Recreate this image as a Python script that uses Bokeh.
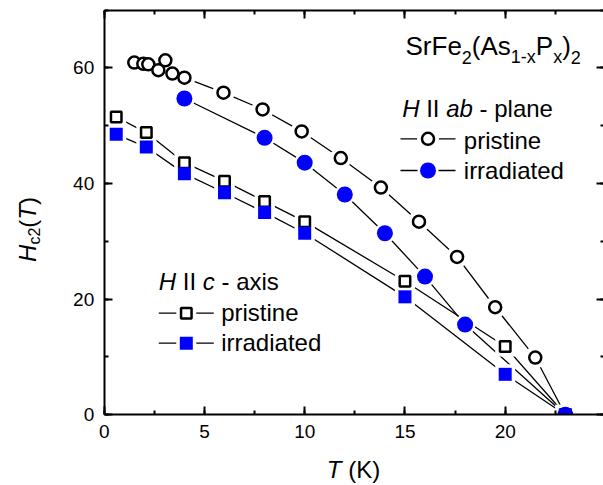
import math
from bokeh.plotting import figure
from bokeh.models import Range1d, LinearAxis, SingleIntervalTicker, Label, Grid
from bokeh.embed import file_html
from bokeh.resources import INLINE

# ---------------- data ----------------
ab_pristine_T = [1.5, 1.95, 2.2, 2.7, 3.05, 3.4, 4.0, 5.95, 7.9, 9.85, 11.8, 13.8, 15.7, 17.6, 19.5, 21.5, 23.0]
ab_pristine_H = [60.9, 60.7, 60.6, 59.6, 61.3, 59.0, 58.3, 55.7, 52.8, 49.0, 44.4, 39.3, 33.4, 27.3, 18.6, 9.9, 0.0]
ab_irr_T = [4.0, 8.0, 10.0, 12.0, 14.0, 16.0, 18.0, 23.0]
ab_irr_H = [54.7, 47.9, 43.6, 38.1, 31.4, 23.9, 15.6, 0.0]
c_pristine_T = [0.6, 2.1, 4.0, 6.0, 8.0, 10.0, 15.0, 20.0, 23.0]
c_pristine_H = [51.5, 48.8, 43.6, 40.4, 36.9, 33.4, 23.1, 11.8, 0.0]
c_irr_T = [0.6, 2.1, 4.0, 6.0, 8.0, 10.0, 15.0, 20.0, 23.0]
c_irr_H = [48.5, 46.3, 41.7, 38.4, 35.0, 31.4, 20.4, 7.0, 0.0]

x_axis_max = 24.95
y_axis_max = 70.0
x_ticks_interval = 5
y_ticks_interval = 20
x_label = [("T", True), (" (K)", False)]
y_label = [("H", True, False), ("c2", False, True), ("(", False, False), ("T", True, False), (")", False, False)]
title_runs = [("SrFe", False), ("2", True), ("(As", False), ("1-x", True), ("P", False), ("x", True), (")", False), ("2", True)]
ab_title = [("H", True), (" II ", False), ("ab", True), (" - plane", False)]
c_title = [("H", True), (" II ", False), ("c", True), (" - axis", False)]
item_labels = ["pristine", "irradiated"]

BLUE = "#0000FF"
FONT = "Liberation Sans"

# ---------------- geometry (canvas px) ----------------
W, Hh = 603, 485
AX0, AY0 = 103.7, 414.3     # pixel position of data origin
XS = 20.05                  # px per K
YS = (AY0 - 9.5) / y_axis_max


def tx(px):
    return (px - AX0) / XS


def hy(py):
    return (AY0 - py) / YS


p = figure(width=W, height=Hh,
           x_range=Range1d(tx(0), tx(W)), y_range=Range1d(hy(Hh), hy(0)),
           output_backend="svg", toolbar_location=None,
           x_axis_location=None, y_axis_location=None,
           min_border=0, min_border_left=0, min_border_right=0, min_border_top=0, min_border_bottom=0,
           background_fill_color="white", border_fill_color="white")
p.outline_line_color = None
for r in p.center:
    if isinstance(r, Grid):
        r.visible = False

xt = SingleIntervalTicker(interval=x_ticks_interval, num_minor_ticks=2)
yt = SingleIntervalTicker(interval=y_ticks_interval, num_minor_ticks=2)


def make_axis(ticker, loc, bounds, show_labels, standoff):
    ax = LinearAxis(ticker=ticker, fixed_location=loc, bounds=bounds)
    ax.axis_line_width = 2
    ax.axis_line_color = "black"
    ax.major_tick_line_width = 2
    ax.minor_tick_line_width = 2
    ax.major_tick_in = 8
    ax.major_tick_out = 0
    ax.minor_tick_in = 4
    ax.minor_tick_out = 0
    if show_labels:
        ax.major_label_text_font = FONT
        ax.major_label_text_font_size = "19px"
        ax.major_label_text_color = "black"
        ax.major_label_standoff = standoff
        ax.major_label_orientation = "horizontal"
    else:
        ax.major_label_text_color = None
        ax.major_label_text_font_size = "1px"
        ax.major_label_standoff = 0
    return ax


# ---------------- series ----------------
series = [
    (ab_pristine_T, ab_pristine_H, "circle", 12, "white", "black", 2.5, 22),
    (ab_irr_T, ab_irr_H, "circle", 16, BLUE, None, 0, 21),
    (c_pristine_T, c_pristine_H, "square", 10.5, "white", "black", 2.5, 20),
    (c_irr_T, c_irr_H, "square", 13, BLUE, None, 0, 20),
]

# legend sample positions (canvas px): (x_left, x_right, y)
samples = [
    (400, 455, 138.3),
    (400, 455, 170.0),
    (158.3, 213.3, 312.7),
    (158.3, 213.3, 342.7),
]

for (T, Hc, *_), (xl, xr, yy) in zip(series, samples):
    p.line(T, Hc, line_color="black", line_width=1.3)
    p.line([tx(xl), tx(xr)], [hy(yy), hy(yy)], line_color="black", line_width=1.3)
for (T, Hc, mk, sz, fc, lc, lw, halo), (xl, xr, yy) in zip(series, samples):
    p.scatter(T, Hc, marker=mk, size=halo, fill_color="white", line_color=None)
    p.scatter([tx((xl + xr) / 2)], [hy(yy)], marker=mk, size=halo, fill_color="white", line_color=None)
for (T, Hc, mk, sz, fc, lc, lw, halo), (xl, xr, yy) in zip(series, samples):
    kw = dict(marker=mk, size=sz, fill_color=fc)
    if lc is None:
        kw.update(line_color=None)
    else:
        kw.update(line_color=lc, line_width=lw)
    p.scatter(T, Hc, **kw)
    p.scatter([tx((xl + xr) / 2)], [hy(yy)], **kw)

# white mask below the x axis so marks are clipped at the axis like the plot frame
p.quad(left=[tx(0)], right=[tx(W)], bottom=[hy(Hh)], top=[0], fill_color="white", line_color=None)

# axes (drawn at fixed data locations; frame covers the whole canvas)
p.add_layout(make_axis(xt, 0, (0, x_axis_max), True, 10), "below")
p.add_layout(make_axis(yt, 0, (0, y_axis_max), True, 10), "left")
p.add_layout(make_axis(xt, y_axis_max, (0, x_axis_max), False, 0), "above")
p.add_layout(make_axis(yt, x_axis_max, (0, y_axis_max), False, 0), "right")

# ---------------- rich text ----------------
CW = {'S': 667, 'r': 333, 'F': 611, 'e': 556, '(': 333, ')': 333, 'A': 667, 's': 500, '-': 333,
      'x': 500, 'P': 667, 'H': 722, 'I': 278, 'a': 556, 'b': 556, 'p': 556, 'l': 222, 'n': 556,
      'i': 222, 't': 278, 'd': 556, 'c': 500, 'K': 667, 'T': 611, ' ': 278}
for d in "0123456789":
    CW[d] = 556


def tw(s, size):
    return sum(CW[c] for c in s) * size / 1000.0


def rich(x_px, y_px, runs, rotated=False):
    """runs: (text, size, italic, dy) ; dy>0 shifts below baseline"""
    adv = 0.0
    for text, size, italic, dy in runs:
        lead = len(text) - len(text.lstrip(' '))
        s = text.strip(' ')
        a = adv + tw(' ' * lead, size)
        fix = 0.3 * size  # renderer places the alphabetic baseline this much low
        if s:
            kw = dict(x=tx(x_px), y=hy(y_px), text=s, text_font=FONT,
                      text_font_size=f"{size}px", text_color="black",
                      text_font_style="italic" if italic else "normal",
                      text_baseline="alphabetic", text_align="left")
            if rotated:
                kw.update(x_offset=dy - fix, y_offset=a, angle=math.pi / 2)
            else:
                kw.update(x_offset=a, y_offset=-dy + fix)
            p.add_layout(Label(**kw))
        adv += tw(text, size)
    return adv


rich(405, 53, [(t, 18 if sub else 26, False, 9 if sub else 0) for t, sub in title_runs])
rich(401.7, 115, [(t, 24, it, 0) for t, it in ab_title])
rich(158.3, 288.3, [(t, 24, it, 0) for t, it in c_title])
rich(463.3, 146.7, [(item_labels[0], 24, False, 0)])
rich(463.3, 176.7, [(item_labels[1], 24, False, 0)])
rich(220.7, 319.3, [(item_labels[0], 24, False, 0)])
rich(220.7, 349.3, [(item_labels[1], 24, False, 0)])
xw = sum(tw(t, 24) for t, _ in x_label)
rich(353 - xw / 2, 476, [(t, 24, it, 0) for t, it in x_label])
yw = sum(tw(t, 16 if sub else 24) for t, _, sub in y_label)
rich(34, 229 + yw / 2, [(t, 16 if sub else 24, it, 5 if sub else 0) for t, it, sub in y_label], rotated=True)

open("out.html", "w").write(file_html(p, INLINE))
